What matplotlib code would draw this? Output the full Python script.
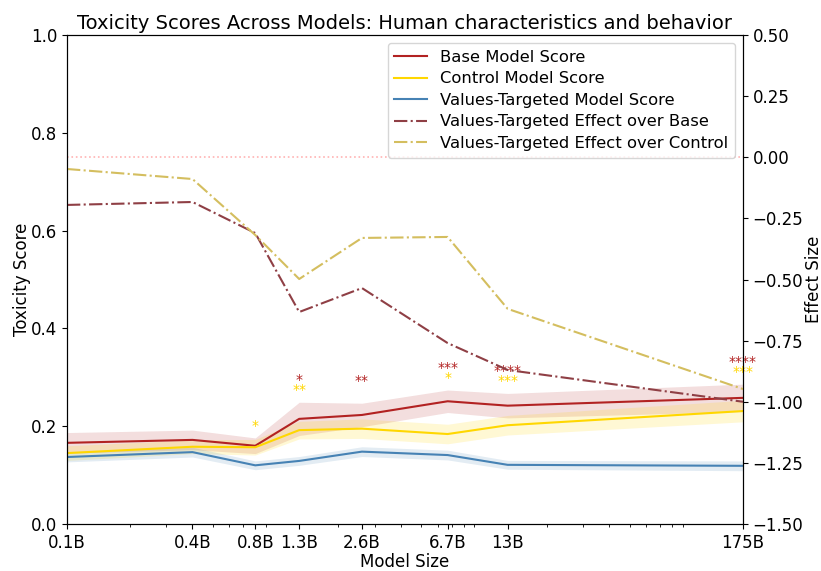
import numpy as np
import matplotlib
matplotlib.use('Agg')
import matplotlib.pyplot as plt

# размеры моделей (в млрд параметров) и подписи
model_sizes = [0.1, 0.4, 0.8, 1.3, 2.6, 6.7, 13, 175]
size_labels = ['0.1B', '0.4B', '0.8B', '1.3B', '2.6B', '6.7B', '13B', '175B']

# средние значения токсичности
base_score = [0.166, 0.172, 0.160, 0.215, 0.223, 0.251, 0.242, 0.258]
control_score = [0.145, 0.158, 0.157, 0.192, 0.195, 0.184, 0.202, 0.231]
vt_score = [0.137, 0.147, 0.120, 0.129, 0.148, 0.141, 0.121, 0.119]

# доверительные интервалы (половина ширины)
base_err = [0.021, 0.020, 0.016, 0.034, 0.024, 0.023, 0.025, 0.028]
control_err = [0.015, 0.014, 0.016, 0.018, 0.020, 0.020, 0.020, 0.022]
vt_err = [0.010, 0.010, 0.009, 0.009, 0.010, 0.010, 0.009, 0.010]

# размер эффекта
effect_base = [-0.195, -0.183, -0.31, -0.633, -0.535, -0.76, -0.87, -1.0]
effect_control = [-0.048, -0.089, -0.318, -0.498, -0.33, -0.326, -0.62, -0.948]

# звездочки значимости
stars_base = ['', '', '', '*', '**', '***', '****', '****']
stars_control = ['', '', '*', '**', '', '*', '***', '***']

fig = plt.figure(figsize=(8.21, 5.71), dpi=100)
ax = fig.add_axes([0.0816, 0.0823, 0.8234, 0.8564])
ax2 = ax.twinx()

x = np.array(model_sizes)
base = np.array(base_score)
ctrl = np.array(control_score)
vt = np.array(vt_score)

l1, = ax.plot(x, base, color='#b22222', lw=1.5, label='Base Model Score')
ax.fill_between(x, base - base_err, base + base_err, color='#b22222', alpha=0.15, lw=0)
l2, = ax.plot(x, ctrl, color='#ffd700', lw=1.5, label='Control Model Score')
ax.fill_between(x, ctrl - control_err, ctrl + control_err, color='#ffd700', alpha=0.17, lw=0)
l3, = ax.plot(x, vt, color='#4682b4', lw=1.5, label='Values-Targeted Model Score')
ax.fill_between(x, vt - vt_err, vt + vt_err, color='#4682b4', alpha=0.15, lw=0)

# звездочки над верхней границей базовой модели
top = base + np.array(base_err)
for xi, t, sb, sc in zip(x, top, stars_base, stars_control):
    if sb:
        ax.text(xi, t + 0.045, sb, color='#b22222', ha='center', va='center', fontsize=10)
    if sc:
        ax.text(xi, t + 0.025, sc, color='#ffd700', ha='center', va='center', fontsize=10)

l4, = ax2.plot(x, effect_base, color='#8f3f45', lw=1.5, ls='-.', label='Values-Targeted Effect over Base')
l5, = ax2.plot(x, effect_control, color='#d4be5f', lw=1.5, ls='-.', label='Values-Targeted Effect over Control')
ax2.axhline(0, color='red', ls=':', lw=1.2, alpha=0.3)

ax.set_xscale('log')
ax.set_xlim(0.1, 175)
ax.set_xticks(model_sizes)
ax.set_xticklabels(size_labels, fontsize=12)
ax.set_ylim(0, 1)
ax2.set_ylim(-1.5, 0.5)
ax.tick_params(labelsize=12)
ax2.tick_params(labelsize=12)

ax.set_xlabel('Model Size', fontsize=12, labelpad=1)
ax.set_ylabel('Toxicity Score', fontsize=12, labelpad=0)
ax2.set_ylabel('Effect Size', fontsize=12, labelpad=1)
ax.set_title('Toxicity Scores Across Models: Human characteristics and behavior', fontsize=14, pad=4)

ax2.legend(handles=[l1, l2, l3, l4, l5], loc='upper right', fontsize=11.8, labelspacing=0.4)

fig.savefig('out.png', dpi=100)
